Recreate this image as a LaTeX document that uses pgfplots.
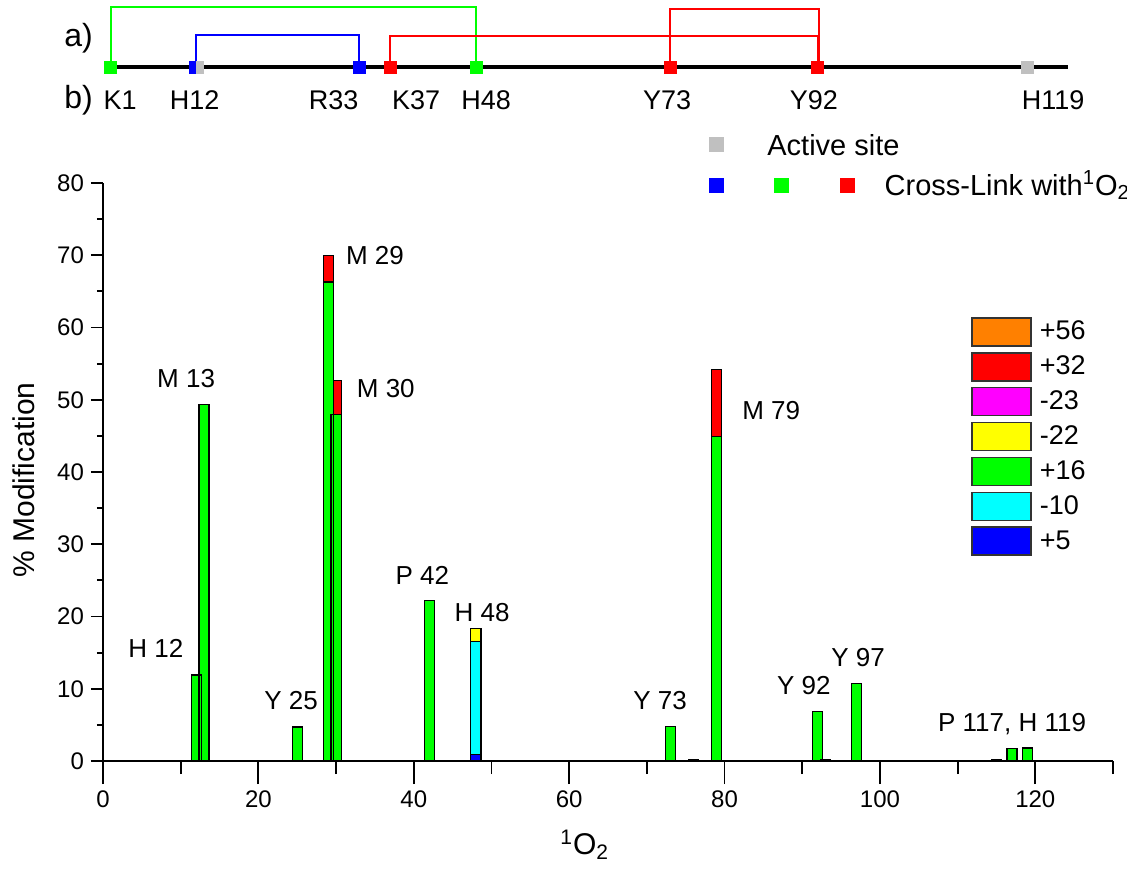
\documentclass[border=0pt]{standalone}
\usepackage{fontspec}
\setmainfont{Liberation Sans}
\usepackage{pgfplots}
\pgfplotsset{compat=1.18}
\definecolor{actgray}{RGB}{192,192,192}
\definecolor{lorange}{RGB}{255,128,0}
\definecolor{pcyan}{RGB}{0,255,255}
\definecolor{pmagenta}{RGB}{255,0,255}
\definecolor{pyellow}{RGB}{255,255,0}
\definecolor{pgreen}{RGB}{0,255,0}
\definecolor{pred}{RGB}{255,0,0}
\definecolor{pblue}{RGB}{0,0,255}
\pgfplotsset{
  mybar/.style={ybar, bar width=1.3, bar shift=0pt, draw=black, line width=0.6pt,
    legend image code/.code={\draw[##1,/tikz/.cd,line width=0.8pt,draw=black!80] (0pt,-7pt) rectangle (29.5pt,7pt);}},
}
\begin{document}
\begin{tikzpicture}[x=1pt,y=1pt]
\useasboundingbox (-51.5,-57) rectangle (512,380.5);

% ---------- panel b: bars and x axis ----------
\begin{axis}[
  at={(0pt,0pt)}, anchor=south west,
  scale only axis, width=505pt, height=289pt,
  xmin=0, xmax=130, ymin=0, ymax=80,
  axis x line=bottom, axis y line=none,
  axis line style={-, line width=0.9pt},
  xtick={0,20,...,120}, minor xtick={10,30,...,130},
  tick align=outside, major tick length=11.5pt, minor tick length=6.5pt,
  tick style={line width=0.9pt, black},
  xticklabel style={font=\fontsize{12}{14}\selectfont},
  /pgf/number format/assume math mode=true,
  clip=false,
  xlabel={\textsuperscript{1}O\textsubscript{2}},
  xlabel style={at={(axis cs:62,-11.6)}, anchor=center, font=\fontsize{15}{18}\selectfont},
  legend cell align=left,
  legend style={at={(axis cs:111.7,61.5)}, anchor=north west, draw=none, fill=none,
    inner sep=0pt, row sep=2.65pt,
    nodes={inner sep=0pt, font=\fontsize{13.5}{15}\selectfont},
    /tikz/every odd column/.style={column sep=4pt}},
]
\addlegendimage{mybar, fill=lorange}
\addlegendentry{+56}
\addplot[mybar, fill=pred] coordinates {(29,70.0) (30,52.7) (79,54.2)};
\addlegendentry{+32}
\addlegendimage{mybar, fill=pmagenta}
\addlegendentry{-23}
\addplot[mybar, fill=pyellow] coordinates {(48,18.3)};
\addlegendentry{-22}
\addplot[mybar, fill=pgreen] coordinates {
  (12,11.9) (13,49.3) (25,4.7) (29,66.3) (30,48.0) (42,22.2) (73,4.8) (76,0.2)
  (79,44.9) (92,6.8) (93,0.2) (97,10.7) (115,0.15) (117,1.7) (119,1.8)};
\addlegendentry{+16}
\addplot[mybar, fill=pcyan] coordinates {(48,16.5)};
\addlegendentry{-10}
\addplot[mybar, fill=pblue] coordinates {(48,0.9)};
\addlegendentry{+5}

\begin{scope}[font=\fontsize{13}{15}\selectfont]
\node at (axis cs:6.8,15.6) {H 12};
\node at (axis cs:10.7,53.0) {M 13};
\node at (axis cs:24.2,8.3) {Y 25};
\node at (axis cs:35.0,69.9) {M 29};
\node at (axis cs:36.4,51.6) {M 30};
\node at (axis cs:41.1,25.7) {P 42};
\node at (axis cs:48.8,20.6) {H 48};
\node at (axis cs:71.7,8.4) {Y 73};
\node at (axis cs:86.0,48.5) {M 79};
\node at (axis cs:90.2,10.4) {Y 92};
\node at (axis cs:97.2,14.3) {Y 97};
\node at (axis cs:117.0,5.1) {P 117, H 119};
\end{scope}
\end{axis}

% ---------- panel b: y axis and top legend ----------
\begin{axis}[
  at={(0pt,0pt)}, anchor=south west,
  scale only axis, width=505pt, height=289pt,
  xmin=0, xmax=130, ymin=0, ymax=80,
  axis x line=none, axis y line=left,
  axis line style={-, line width=0.9pt},
  ytick={0,10,...,80}, minor ytick={5,15,...,75},
  tick align=outside, major tick length=6pt, minor tick length=3pt,
  tick style={line width=0.9pt, black},
  yticklabel style={font=\fontsize{12}{14}\selectfont},
  /pgf/number format/assume math mode=true,
  clip=false,
  ylabel={\% Modification},
  ylabel style={at={(axis cs:-10.2,38.9)}, anchor=center, font=\fontsize{15}{18}\selectfont},
]
\addplot[only marks, mark=square*, mark size=3.5pt, color=actgray, forget plot] coordinates {(78.9,85.3)};
\addplot[only marks, mark=square*, mark size=3.5pt, color=pblue, forget plot] coordinates {(78.9,79.7)};
\addplot[only marks, mark=square*, mark size=3.5pt, color=pgreen, forget plot] coordinates {(87.3,79.7)};
\addplot[only marks, mark=square*, mark size=3.5pt, color=pred, forget plot] coordinates {(95.8,79.7)};
\node[anchor=west, font=\fontsize{14.5}{16}\selectfont] at (axis cs:84.6,85.3) {Active site};
\node[anchor=west, font=\fontsize{14.5}{16}\selectfont] at (axis cs:99.7,79.7) {Cross-Link with\textsuperscript{1}O\textsubscript{2}};
\end{axis}

% ---------- panel a ----------
\begin{axis}[
  at={(0pt,330.5pt)}, anchor=south west,
  scale only axis, width=505pt, height=50pt,
  xmin=0, xmax=130, ymin=0, ymax=100,
  hide axis, clip=false,
]
\addplot[pgreen, line width=1pt] coordinates {(1,33) (1,92.5) (48,92.5) (48,33)};
\addplot[pblue, line width=1pt] coordinates {(12,33) (12,65) (33,65) (33,33)};
\addplot[pred, line width=1pt] coordinates {(37,33) (37,64) (92,64) (92,33)};
\addplot[pred, line width=1pt] coordinates {(73,33) (73,90.5) (92.1,90.5) (92.1,33)};
\addplot[black, line width=2.2pt] coordinates {(0.5,33) (124.2,33)};
\addplot[only marks, mark=square*, mark size=3pt, color=pgreen] coordinates {(1,33) (48,33)};
\addplot[only marks, mark=square*, mark size=3pt, color=pblue] coordinates {(33,33)};
\addplot[only marks, mark=square*, mark size=3pt, color=pblue, mark options={xscale=0.55}] coordinates {(11.55,33)};
\addplot[only marks, mark=square*, mark size=3pt, color=actgray, mark options={xscale=0.55}] coordinates {(12.45,33)};
\addplot[only marks, mark=square*, mark size=3pt, color=pred] coordinates {(37,33) (73,33) (92,33)};
\addplot[only marks, mark=square*, mark size=3pt, color=actgray] coordinates {(119,33)};
\begin{scope}[font=\fontsize{13.5}{15}\selectfont]
\node at (axis cs:2.2,0) {K1};
\node at (axis cs:11.8,0) {H12};
\node at (axis cs:29.7,0) {R33};
\node at (axis cs:40.3,0) {K37};
\node at (axis cs:49.3,0) {H48};
\node at (axis cs:72.6,0) {Y73};
\node at (axis cs:91.5,0) {Y92};
\node at (axis cs:122.3,0) {H119};
\end{scope}
\node[anchor=east, font=\fontsize{16}{18}\selectfont] at (axis cs:-0.4,62) {a)};
\node[anchor=east, font=\fontsize{16}{18}\selectfont] at (axis cs:-0.4,0) {b)};
\end{axis}
\end{tikzpicture}
\end{document}
